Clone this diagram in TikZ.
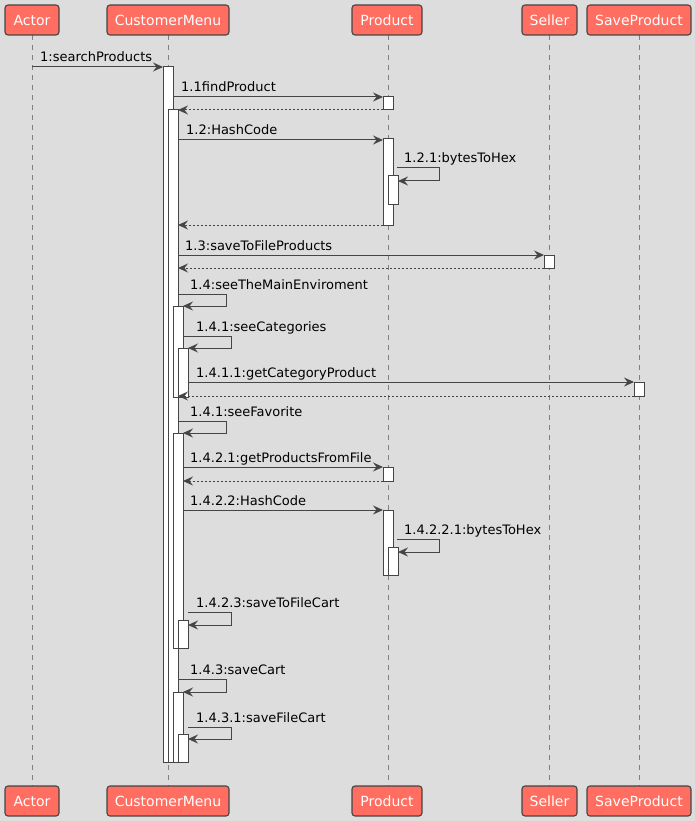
\documentclass[tikz,border=0pt]{standalone}
\usepackage{fontspec}
\setmainfont{DejaVu Sans}
\usetikzlibrary{arrows.meta}
\definecolor{bg}{HTML}{DDDDDD}
\definecolor{pfill}{HTML}{FF6E60}
\definecolor{ink}{HTML}{454545}
\definecolor{life}{HTML}{808080}
\tikzset{
  part/.style={draw=ink, line width=1.1pt, fill=pfill, rounded corners=3pt, text=white,
    font=\fontsize{14}{16}\selectfont, minimum height=30pt, inner sep=0pt, anchor=center},
  lifeline/.style={draw=life, line width=0.8pt, dash pattern=on 5pt off 5pt},
  actbar/.style={draw=ink, line width=1pt, fill=white},
  msg/.style={draw=ink, line width=1pt, -{Stealth[length=10pt,width=9pt,inset=3.5pt]}},
  ret/.style={draw=ink, line width=1pt, dash pattern=on 2pt off 2pt, -{Stealth[length=10pt,width=9pt,inset=3.5pt]}},
  lbl/.style={anchor=base west, inner sep=0pt, font=\fontsize{13}{15}\selectfont, text=black}
}
\begin{document}
\begin{tikzpicture}[x=1pt,y=-1pt]
\useasboundingbox (0,0) rectangle (695,821);
\fill[bg] (0,0) rectangle (695,821);

% lifelines
\foreach \n/\x in {actor/32,cm/168,prod/388,sell/549.5,save/639}{
  \coordinate (\n-top) at (\x,35);
  \coordinate (\n-bot) at (\x,786);
  \draw[lifeline] (\n-top) -- (\n-bot);
}

% participants
\node[part, minimum width=54pt] (actorT) at (32,20) {Actor};
\node[part, minimum width=122pt] (cmT) at (168,20) {CustomerMenu};
\node[part, minimum width=70pt] (prodT) at (387,20) {Product};
\node[part, minimum width=55pt] (sellT) at (549.5,20) {Seller};
\node[part, minimum width=104pt] (saveT) at (639,20) {SaveProduct};
\node[part, minimum width=54pt] (actorB) at (32,801) {Actor};
\node[part, minimum width=122pt] (cmB) at (168,801) {CustomerMenu};
\node[part, minimum width=70pt] (prodB) at (387,801) {Product};
\node[part, minimum width=55pt] (sellB) at (549.5,801) {Seller};
\node[part, minimum width=104pt] (saveB) at (639,801) {SaveProduct};

% activation bars
\draw[actbar] (163,67) rectangle (173,762);
\draw[actbar] (168,110) rectangle (178,762);
\draw[actbar] (173,306) rectangle (183,397);
\draw[actbar] (178,348) rectangle (188,397);
\draw[actbar] (173,433) rectangle (183,648);
\draw[actbar] (178,620) rectangle (188,648);
\draw[actbar] (173,692) rectangle (183,762);
\draw[actbar] (178,734) rectangle (188,762);
\draw[actbar] (383,97) rectangle (393,110);
\draw[actbar] (383,139) rectangle (393,225);
\draw[actbar] (388,176) rectangle (398,204);
\draw[actbar] (383,467) rectangle (393,481);
\draw[actbar] (383,510) rectangle (393,575);
\draw[actbar] (388,547) rectangle (398,575);
\draw[actbar] (544,255) rectangle (554,268);
\draw[actbar] (634,382) rectangle (644,396);

% messages
\draw[msg] (32,67) -- (163,67);
\node[lbl] (m1) at (40,62) {1:searchProducts};

\draw[msg] (173,97) -- (383,97);
\node[lbl] (m2) at (181,92) {1.1findProduct};
\draw[ret] (383,110) -- (178,110);

\draw[msg] (178,140) -- (383,140);
\node[lbl] (m3) at (186,135) {1.2:HashCode};

\draw[msg] (397,168) -- (439,168) -- (439,181) -- (398,181);
\node[lbl] (m4) at (404,163) {1.2.1:bytesToHex};
\draw[ret] (383,225) -- (178,225);

\draw[msg] (178,255) -- (544,255);
\node[lbl] (m5) at (185,250) {1.3:saveToFileProducts};
\draw[ret] (544,268) -- (178,268);

\draw[msg] (178,294) -- (226,294) -- (226,306) -- (183,306);
\node[lbl] (m6) at (190,289) {1.4:seeTheMainEnviroment};

\draw[msg] (183,336) -- (231,336) -- (231,348) -- (188,348);
\node[lbl] (m7) at (196,331) {1.4.1:seeCategories};

\draw[msg] (188,382) -- (634,382);
\node[lbl] (m8) at (196,377) {1.4.1.1:getCategoryProduct};
\draw[ret] (634,396) -- (178,396);

\draw[msg] (178,421) -- (226,421) -- (226,433) -- (183,433);
\node[lbl] (m9) at (190,416) {1.4.1:seeFavorite};

\draw[msg] (183,467) -- (383,467);
\node[lbl] (m10) at (190,462) {1.4.2.1:getProductsFromFile};
\draw[ret] (383,481) -- (183,481);

\draw[msg] (183,510) -- (383,510);
\node[lbl] (m11) at (190,505) {1.4.2.2:HashCode};

\draw[msg] (397,539) -- (439,539) -- (439,552) -- (398,552);
\node[lbl] (m12) at (404,534) {1.4.2.2.1:bytesToHex};

\draw[msg] (188,612) -- (231,612) -- (231,625) -- (188,625);
\node[lbl] (m13) at (196,607) {1.4.2.3:saveToFileCart};

\draw[msg] (178,679) -- (226,679) -- (226,692) -- (183,692);
\node[lbl] (m14) at (190,674) {1.4.3:saveCart};

\draw[msg] (188,727) -- (231,727) -- (231,739) -- (188,739);
\node[lbl] (m15) at (196,722) {1.4.3.1:saveFileCart};
\end{tikzpicture}
\end{document}
